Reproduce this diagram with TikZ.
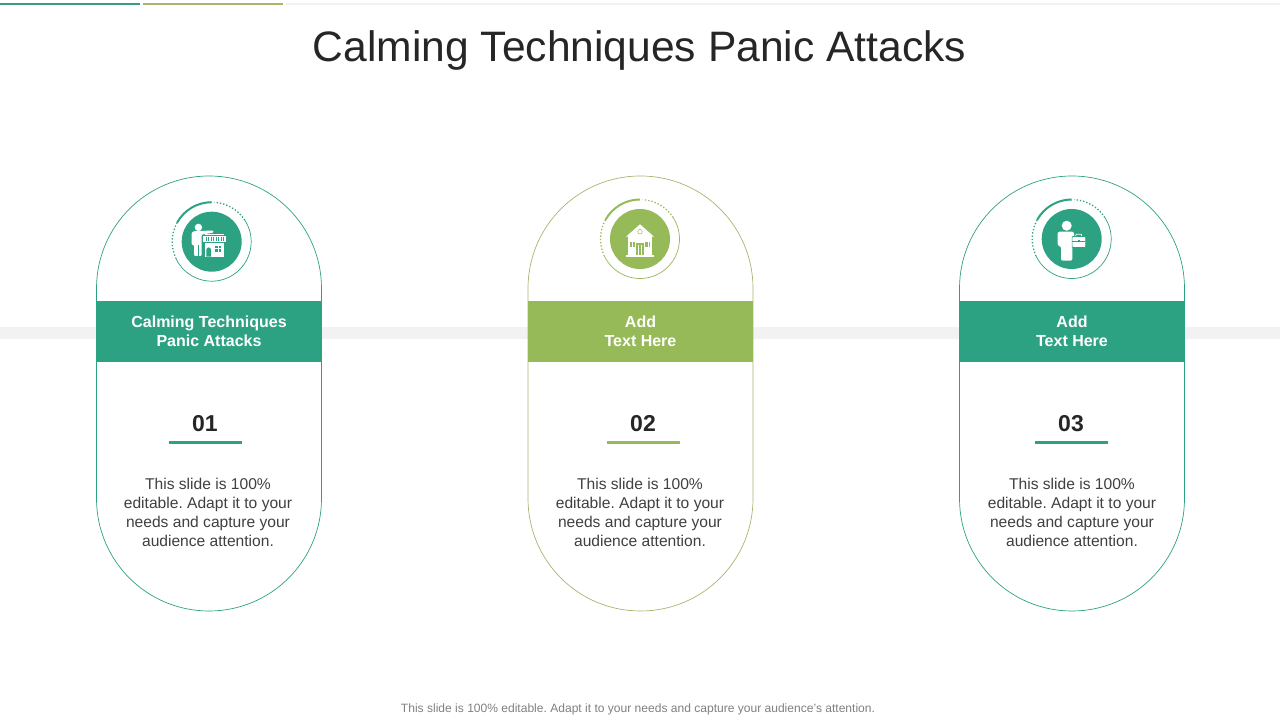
\documentclass[tikz,border=0pt]{standalone}
\usepackage{fontspec}
\setmainfont{Liberation Sans}
\usepackage{xcolor}
\usetikzlibrary{positioning}
\frenchspacing

\definecolor{tealmain}{HTML}{2CA283}
\definecolor{greenmain}{HTML}{97BA58}
\definecolor{oliveline}{HTML}{A9B56C}
\definecolor{bandgray}{HTML}{F2F2F2}
\definecolor{inkdark}{HTML}{262626}
\definecolor{inkbody}{HTML}{404040}

\tikzset{
  pill/.style={draw=#1, line width=0.7pt, fill=white, rectangle, rounded corners=112.4pt,
    minimum width=225pt, minimum height=435pt, inner sep=0pt},
  bandbox/.style={fill=#1, rectangle, minimum width=225pt, minimum height=61pt, inner sep=0pt,
    text=white, align=center, font=\fontsize{16}{19}\selectfont\bfseries},
  numlabel/.style={font=\fontsize{23}{28}\selectfont\bfseries, text=inkdark, inner sep=0pt},
  bodytext/.style={font=\fontsize{15.6}{19}\selectfont, text=inkbody, align=center, inner sep=0pt},
  iconball/.style={circle, fill=#1, minimum size=60pt, inner sep=0pt},
}

\begin{document}
\begin{tikzpicture}[x=1pt, y=1pt]
    \useasboundingbox (0,0) rectangle (1280,720);

    % Top rules
    \fill[tealmain!85!gray] (0,715.2) rectangle (140,716.8);
    \fill[oliveline] (143,715.2) rectangle (283,716.8);
    \fill[bandgray] (286,715.2) rectangle (1280,716.8);

    % Title
    \node[font=\fontsize{42.6}{50}\selectfont, text=inkdark, inner sep=0pt] (title) at (639.5,670) {Calming Techniques Panic Attacks};

    % Grey band behind the cards
    \fill[bandgray] (0,381) rectangle (1280,393);

    % Cards
    \node[pill=tealmain] (pillA) at (209,326.5) {};
    \node[pill=oliveline] (pillB) at (640.5,326.5) {};
    \node[pill=tealmain] (pillC) at (1072,326.5) {};

    \node[bandbox=tealmain] (bandA) at (209,388.5) {Calming Techniques\\Panic Attacks};
    \node[bandbox=greenmain] (bandB) at (640.5,388.5) {Add\\Text Here};
    \node[bandbox=tealmain] (bandC) at (1072,388.5) {Add\\Text Here};

    % Numbers
    \node[numlabel] (numA) at (205,296) {01};
    \node[numlabel] (numB) at (643,296) {02};
    \node[numlabel] (numC) at (1071,296) {03};
    \fill[tealmain] (169,275.5) rectangle (242,279);
    \fill[greenmain] (607,275.5) rectangle (680,279);
    \fill[tealmain] (1035,275.5) rectangle (1108,279);

    % Body text
    \foreach \px/\nm in {208/A, 640/B, 1072/C}
        \node[bodytext] (text\nm) at (\px,207.5) {This slide is 100\%\\editable. Adapt it to your\\needs and capture your\\audience attention.};

    % Rings and discs
    \foreach \cx/\cy/\col/\nm in {211.7/478.3/tealmain/A, 640/481/greenmain/B, 1071.7/481/tealmain/C} {
        \node[iconball=\col] (disc\nm) at (\cx,\cy) {};
        \draw[\col, line width=0.7pt] (\cx,\cy) ++(205:39.5) arc (205:393:39.5);
        \draw[\col, line width=1.3pt, dash pattern=on 1.3pt off 2pt] (\cx,\cy) ++(33:39.5) arc (33:86:39.5);
        \draw[\col, line width=1.3pt, dash pattern=on 1.3pt off 2pt] (\cx,\cy) ++(151:39.5) arc (151:205:39.5);
        \draw[\col, line width=2pt] (\cx,\cy) ++(90:39.5) arc (90:151:39.5);
    }

    % Person and shop
    \begin{scope}[shift={(discA.center)}]
        \fill[white] (-13.3,14.3) circle (3.7);
        \fill[white, rounded corners=1pt] (-20,-3.3) -- (-20,9) -- (-18,10.5) -- (1.7,11.2) -- (1.7,9) -- (-10,7.2) -- (-10,-14.3) -- (-17.7,-14.3) -- (-17.7,-3.3) -- cycle;
        \draw[tealmain, line width=0.5pt] (-13.8,-14.3) -- (-13.8,-3);
        \fill[white] (-6.7,0) rectangle (12.3,-15);
        \fill[white] (-6.7,8) rectangle (12.3,6.5);
        \fill[white] (-8.3,6) rectangle (14.3,-0.5);
        \foreach \sx in {-6,-3.5,...,12}
            \draw[tealmain, line width=0.4pt] (\sx,5) -- (\sx,1);
        \draw[tealmain, line width=0.4pt] (-8.3,-0.5) -- (14.3,-0.5);
        \fill[tealmain] (-5.3,-15) -- (-5.3,-8) arc (180:0:2.3) -- (-0.7,-15) -- cycle;
        \fill[tealmain] (3.5,-10) rectangle (9.5,-4);
        \draw[white, line width=0.4pt] (6.5,-10) -- (6.5,-4) (3.5,-7) -- (9.5,-7);
    \end{scope}

    % House
    \begin{scope}[shift={(discB.center)}]
        \fill[white] (0,14.7) -- (14,2.3) -- (-14,2.3) -- cycle;
        \fill[white] (-11.7,2.5) rectangle (11.7,-16);
        \fill[white] (-14,-16.4) rectangle (14,-18);
        \draw[greenmain, line width=0.5pt] (0,7.3) circle (2.3);
        \fill[greenmain] (-10.3,-8) rectangle (-5,-3);
        \fill[greenmain] (5,-8) rectangle (10.3,-3);
        \draw[white, line width=0.4pt] (-7.7,-8) -- (-7.7,-3) (7.7,-8) -- (7.7,-3);
        \fill[greenmain] (-3.7,-3.7) rectangle (3.7,-16);
        \fill[white] (-2.4,-6) rectangle (-0.8,-16);
        \fill[white] (0.8,-6) rectangle (2.4,-16);
    \end{scope}

    % Person and briefcase
    \begin{scope}[shift={(discC.center)}]
        \fill[white] (-5,13.3) circle (5);
        \fill[white, rounded corners=2pt] (-14,7.3) -- (2.3,7.3) -- (2.3,-6) -- (0.7,-6) -- (0.7,-21.7) -- (-10.7,-21.7) -- (-10.7,-7) -- (-14,-7) -- cycle;
        \draw[white, line width=0.7pt] (3.5,2) -- (4.5,4.7) -- (9.5,4.7) -- (10.5,2);
        \filldraw[fill=white, draw=tealmain, line width=0.6pt, rounded corners=0.8pt] (0.4,2.5) rectangle (13.9,-8.5);
        \draw[tealmain, line width=0.4pt] (0.6,-2) -- (13.7,-2);
        \fill[tealmain] (6,-3) rectangle (8.2,-1);
    \end{scope}

    % Footer
    \node[font=\fontsize{12.05}{14}\selectfont, text=gray, inner sep=0pt] (footer) at (638,11) {This slide is 100\% editable. Adapt it to your needs and capture your audience's attention.};
\end{tikzpicture}
\end{document}
